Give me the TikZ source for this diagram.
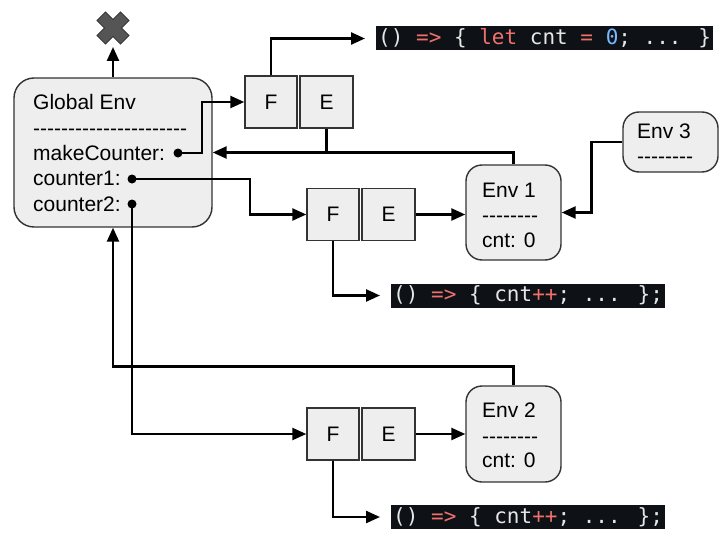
\documentclass[tikz,border=0pt]{standalone}
\usepackage{fontspec}
\newfontfamily\boxfont{Liberation Sans}
\newfontfamily\codefont{DejaVu Sans Mono}
\usetikzlibrary{arrows.meta,calc}
\definecolor{boxfill}{HTML}{EEEEEE}
\definecolor{boxline}{HTML}{333333}
\definecolor{codebg}{HTML}{0E1116}
\definecolor{codetext}{HTML}{E6E6E6}
\definecolor{codered}{HTML}{F0716C}
\definecolor{codeblue}{HTML}{79B8FF}
\definecolor{crossfill}{HTML}{555555}
\newcommand\kw[1]{\textcolor{codered}{#1}}
\tikzset{
	envbox/.style={draw=boxline, fill=boxfill, line width=1.4pt, rounded corners=16pt, inner sep=0pt},
	cell/.style={draw=boxline, fill=boxfill, line width=1.4pt, minimum width=52pt, minimum height=52pt, inner sep=0pt, font=\boxfont\fontsize{21}{25}\selectfont},
	txt/.style={anchor=base west, inner sep=0pt, font=\boxfont\fontsize{21}{25}\selectfont},
	code/.style={anchor=west, fill=codebg, text=codetext, inner xsep=2pt, inner ysep=0pt, minimum height=24pt, font=\codefont\fontsize{21}{24}\selectfont},
	dot/.style={circle, fill=black, inner sep=0pt, minimum size=9pt},
	conn/.style={line width=2.4pt, -{Triangle[length=14pt,width=12pt]}},
	link/.style={line width=2.4pt},
}

\begin{document}
\begin{tikzpicture}[x=1pt, y=-1pt]
		%%%%% START %%%%%
		\useasboundingbox (0,0) rectangle (728,551);
		
		% global environment
		\node[envbox, rounded corners=20pt, minimum width=198pt, minimum height=149pt] (genv) at (113,152.5) {};
		\node[txt] (gname) at (33,110) {Global Env};
		\node[txt] (gdash) at (33,135) {----------------------};
		\node[txt] (gmake) at (33,160) {makeCounter:};
		\node[txt] (gc1) at (33,185.5) {counter1:};
		\node[txt] (gc2) at (33,211) {counter2:};
		\node[dot] (mkdot) at (178,153) {};
		\node[dot] (c1dot) at (132,179) {};
		\node[dot] (c2dot) at (132,204) {};
		
		% gone
		\begin{scope}[shift={(113,28)}, rotate=45]
			\draw[fill=crossfill, draw=boxline, line width=1pt] (6,6) -- (6,16.6) -- (-6,16.6) -- (-6,6) -- (-16.6,6) -- (-16.6,-6) -- (-6,-6) -- (-6,-16.6) -- (6,-16.6) -- (6,-6) -- (16.6,-6) -- (16.6,6) -- cycle;
		\end{scope}
		\coordinate (gone) at (113,47);
		
		% closures
		\node[cell] (f1) at (271,102) {F};
		\node[cell, minimum width=53pt] (e1) at (326.5,102) {E};
		\node[cell] (f2) at (333,214.5) {F};
		\node[cell, minimum width=53pt] (e2) at (388.5,214.5) {E};
		\node[cell] (f3) at (333,434) {F};
		\node[cell, minimum width=53pt] (e3) at (388.5,434) {E};
		
		% environments
		\node[envbox, minimum width=95pt, minimum height=95pt] (env1) at (513.5,212.5) {};
		\node[txt] (env1name) at (482,197) {Env 1};
		\node[txt] (env1dash) at (482,222) {--------};
		\node[txt] (env1cnt) at (482,247) {cnt: 0};
		
		\node[envbox, minimum width=95pt, minimum height=60pt] (env3) at (670.5,142) {};
		\node[txt] (env3name) at (637,138) {Env 3};
		\node[txt] (env3dash) at (637,163) {--------};
		
		\node[envbox, minimum width=95pt, minimum height=96pt] (env2) at (513.5,434) {};
		\node[txt] (env2name) at (482,417) {Env 2};
		\node[txt] (env2dash) at (482,443) {--------};
		\node[txt] (env2cnt) at (482,467) {cnt: 0};
		
		% code
		\node[code] (code1) at (376,38.5) {() \kw{=>} \{ \kw{let} cnt \kw{=} \textcolor{codeblue}{0}; ... \}};
		\node[code] (code2) at (391,295.5) {() \kw{=>} \{ cnt\kw{++}; ... \};};
		\node[code] (code3) at (391,517) {() \kw{=>} \{ cnt\kw{++}; ... \};};
		
		% links
		\draw[conn] (genv.north) -- (gone);
		\draw[conn] (mkdot.center) -- ++(24,0) |- (f1.west);
		\draw[conn, shorten >=11pt] (f1.north) |- (code1.west);
		\draw[conn] (env1.north) |- (genv.east);
		\draw[link] (e1.south) -- (e1.south |- genv.east);
		\draw[conn] (c1dot.center) -- ++(118,0) |- (f2.west);
		\draw[conn] (e2.east) -- (e2.east -| env1.west);
		\draw[conn] (env3.west) -- ++(-31,0) |- (env1.east);
		\draw[conn, shorten >=11pt] (f2.south) |- (code2.west);
		\draw[conn] (c2dot.center) |- (f3.west);
		\draw[conn] (env2.north) -- ++(0,-19) -| (genv.south);
		\draw[conn] (e3.east) -- (env2.west);
		\draw[conn, shorten >=11pt] (f3.south) |- (code3.west);
		
		%%%%% END %%%%%
	\end{tikzpicture}
\end{document}
